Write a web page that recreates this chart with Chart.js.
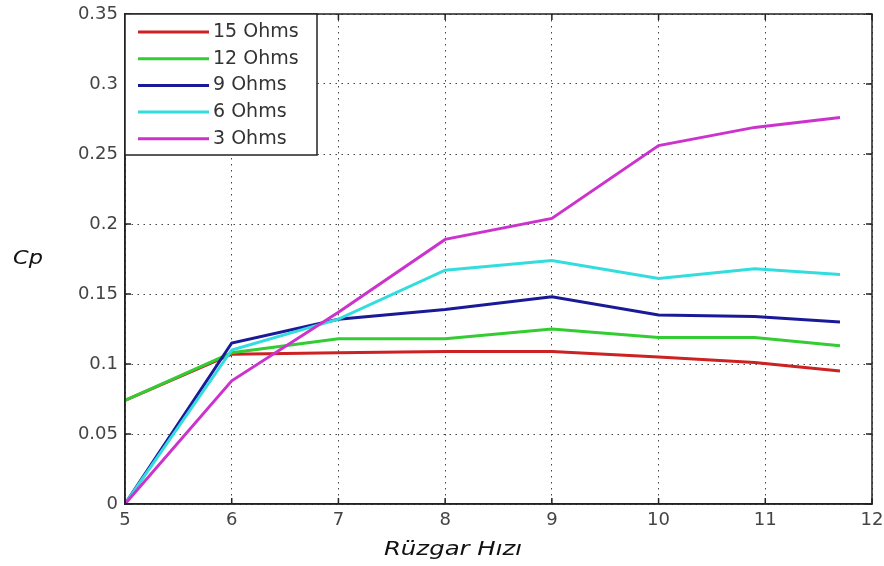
<!DOCTYPE html>
<html>
<head>
<meta charset="utf-8">
<script src="https://cdn.jsdelivr.net/npm/chart.js@4.4.1/dist/chart.umd.min.js"></script>
<style>
html,body{margin:0;padding:0;background:#fff;}
#wrap{width:884px;height:566px;}
</style>
</head>
<body>
<div id="wrap"><canvas id="c" width="884" height="566"></canvas></div>
<script>
// ---- data ----
const windSpeed = [5, 6, 7, 8, 9, 10, 10.9, 11.7];
const seriesLabels = ['15 Ohms', '12 Ohms', '9 Ohms', '6 Ohms', '3 Ohms'];
const cp15 = [0.074, 0.107, 0.108, 0.109, 0.109, 0.105, 0.101, 0.095];
const cp12 = [0.074, 0.108, 0.118, 0.118, 0.125, 0.119, 0.119, 0.113];
const cp9  = [0.000, 0.115, 0.132, 0.139, 0.148, 0.135, 0.134, 0.130];
const cp6  = [0.000, 0.110, 0.132, 0.167, 0.174, 0.161, 0.168, 0.164];
const cp3  = [0.000, 0.088, 0.137, 0.189, 0.204, 0.256, 0.269, 0.276];
const xTickLabels = ['5', '6', '7', '8', '9', '10', '11', '12'];
const yTickLabels = ['0', '0.05', '0.1', '0.15', '0.2', '0.25', '0.3', '0.35'];
const xTitle = 'Rüzgar Hızı';
const yTitle = 'Cp';

const colors = ['#cc2222', '#33cc33', '#1a1a99', '#33dddd', '#cc33cc'];
const allSeries = [cp15, cp12, cp9, cp6, cp3];

const datasets = allSeries.map((s, i) => ({
  label: seriesLabels[i],
  data: s.map((v, j) => ({x: windSpeed[j], y: v})),
  borderColor: colors[i],
  backgroundColor: colors[i],
  borderWidth: 3,
  pointRadius: 0,
  tension: 0,
  fill: false,
  order: i === 0 ? 10 : 5 - i
}));

function stretchedText(ctx, text, x, y, sx) {
  ctx.save();
  ctx.translate(x, y);
  ctx.scale(sx, 1);
  ctx.fillText(text, 0, 0);
  ctx.restore();
}

const framePlugin = {
  id: 'frame',
  beforeDraw(chart) {
    const ctx = chart.ctx;
    ctx.save();
    ctx.fillStyle = '#fff';
    ctx.fillRect(0, 0, chart.width, chart.height);
    ctx.restore();
  },
  afterDraw(chart) {
    const ctx = chart.ctx;
    const a = chart.chartArea;
    const xs = chart.scales.x, ys = chart.scales.y;
    ctx.save();
    ctx.strokeStyle = '#222';
    ctx.lineWidth = 1.5;
    ctx.strokeRect(a.left, a.top, a.right - a.left, a.bottom - a.top);
    // inward ticks
    ctx.beginPath();
    xs.ticks.forEach(t => {
      const px = xs.getPixelForValue(t.value);
      ctx.moveTo(px, a.bottom); ctx.lineTo(px, a.bottom - 6);
      ctx.moveTo(px, a.top); ctx.lineTo(px, a.top + 6);
    });
    ys.ticks.forEach(t => {
      const py = ys.getPixelForValue(t.value);
      ctx.moveTo(a.left, py); ctx.lineTo(a.left + 6, py);
      ctx.moveTo(a.right, py); ctx.lineTo(a.right - 6, py);
    });
    ctx.stroke();

    // legend box inside plot
    const lx = a.left, ly = a.top, lw = 192, lh = 141;
    ctx.fillStyle = '#fff';
    ctx.fillRect(lx, ly, lw, lh);
    ctx.strokeStyle = '#222';
    ctx.lineWidth = 1.5;
    ctx.strokeRect(lx, ly, lw, lh);
    ctx.font = '19px "DejaVu Sans"';
    ctx.textBaseline = 'middle';
    ctx.textAlign = 'left';
    chart.data.datasets.forEach((ds, i) => {
      const y = ly + 18 + i * 26.7;
      ctx.strokeStyle = ds.borderColor;
      ctx.lineWidth = 3;
      ctx.beginPath();
      ctx.moveTo(lx + 13, y); ctx.lineTo(lx + 84, y);
      ctx.stroke();
      ctx.fillStyle = '#333';
      ctx.fillText(ds.label, lx + 88, y);
    });

    // axis titles
    ctx.fillStyle = '#111';
    ctx.font = 'italic 20px "DejaVu Sans"';
    ctx.textAlign = 'center';
    ctx.textBaseline = 'middle';
    stretchedText(ctx, xTitle, 453, 550, 1.22);
    stretchedText(ctx, yTitle, 28, 259, 1.12);
    ctx.restore();
  }
};

new Chart(document.getElementById('c'), {
  type: 'line',
  data: { datasets },
  options: {
    responsive: false,
    animation: false,
    devicePixelRatio: 1,
    layout: { padding: { left: 0, right: 12, top: 14, bottom: 0 } },
    plugins: { legend: { display: false }, tooltip: { enabled: false } },
    scales: {
      x: {
        type: 'linear', min: 5, max: 12,
        ticks: {
          stepSize: 1, padding: 6, color: '#444',
          font: { family: 'DejaVu Sans', size: 18 },
          callback: (v) => xTickLabels[Math.round(v - 5)] ?? ''
        },
        grid: { color: '#444', lineWidth: 1, drawTicks: false },
        border: { display: true, color: '#222', width: 1.5, dash: [1.5, 4.5] },
        afterFit: (s) => { s.height = 62; s.paddingLeft = 0; s.paddingRight = 0; }
      },
      y: {
        type: 'linear', min: 0, max: 0.35,
        ticks: {
          stepSize: 0.05, padding: 7, color: '#444',
          font: { family: 'DejaVu Sans', size: 18 },
          callback: (v) => yTickLabels[Math.round(v / 0.05)] ?? ''
        },
        grid: { color: '#444', lineWidth: 1, drawTicks: false },
        border: { display: true, color: '#222', width: 1.5, dash: [1.5, 4.5] },
        afterFit: (s) => { s.width = 125; s.paddingTop = 0; s.paddingBottom = 0; }
      }
    }
  },
  plugins: [framePlugin]
});
</script>
</body>
</html>
